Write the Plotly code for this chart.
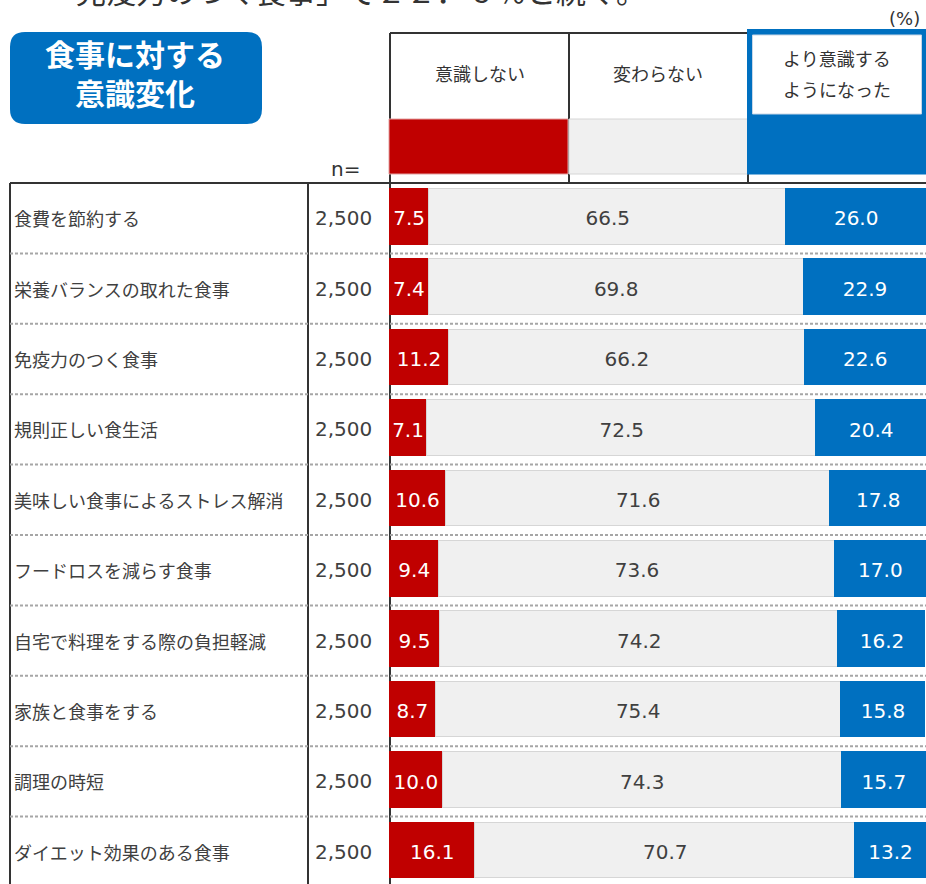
import plotly.graph_objects as go

# ---- data -------------------------------------------------------------
items = [
    "食費を節約する",
    "栄養バランスの取れた食事",
    "免疫力のつく食事",
    "規則正しい食生活",
    "美味しい食事によるストレス解消",
    "フードロスを減らす食事",
    "自宅で料理をする際の負担軽減",
    "家族と食事をする",
    "調理の時短",
    "ダイエット効果のある食事",
]
n_values = [2500, 2500, 2500, 2500, 2500, 2500, 2500, 2500, 2500, 2500]
not_conscious = [7.5, 7.4, 11.2, 7.1, 10.6, 9.4, 9.5, 8.7, 10.0, 16.1]
unchanged = [66.5, 69.8, 66.2, 72.5, 71.6, 73.6, 74.2, 75.4, 74.3, 70.7]
more_conscious = [26.0, 22.9, 22.6, 20.4, 17.8, 17.0, 16.2, 15.8, 15.7, 13.2]

series_names = ["意識しない", "変わらない", "より意識する<br>ようになった"]
headline = "「免疫力のつく食事」で２２．６％と続く。"
box_title = "食事に対する<br>意識変化"

# ---- styling ----------------------------------------------------------
W, H = 926, 884
RED, GRAY, BLUE = "#c00000", "#f0f0f0", "#0070c0"
DARK = "#333333"
JP = "Noto Sans CJK JP"
NUM = "DejaVu Sans"


def px(x):
    return x / W


def py(y):
    return 1 - y / H


rows = list(range(len(items)))

fig = go.Figure()
series = [
    (not_conscious, RED, "white", series_names[0], RED),
    (unchanged, GRAY, "#404040", series_names[1], "#d6d6d6"),
    (more_conscious, BLUE, "white", series_names[2], BLUE),
]
for vals, color, tcolor, name, edge in series:
    fig.add_trace(go.Bar(
        x=vals, y=rows, orientation="h", name=name,
        marker=dict(color=color, line=dict(color=edge, width=1.2)),
        width=0.79, showlegend=False, hoverinfo="skip",
    ))

# value labels centred in each segment
base = [0.0] * len(rows)
for vals, color, tcolor, name, edge in series:
    mids = [b + v / 2 for b, v in zip(base, vals)]
    fig.add_trace(go.Scatter(
        x=mids, y=[r + 0.05 for r in rows], mode="text",
        text=[f"{v:.1f}" for v in vals],
        textfont=dict(family=NUM, size=20, color=tcolor),
        showlegend=False, hoverinfo="skip", cliponaxis=False,
    ))
    base = [b + v for b, v in zip(base, vals)]

shapes = []
line_dark = dict(color=DARK, width=2)


def seg(x0, y0, x1, y1):
    shapes.append(dict(type="line", xref="paper", yref="paper",
                       x0=px(x0), y0=py(y0), x1=px(x1), y1=py(y1),
                       layer="below", line=line_dark))


def rect(x0, y0, x1, y1, fill, edge=None, ew=0):
    shapes.append(dict(type="rect", xref="paper", yref="paper",
                       x0=px(x0), y0=py(y0), x1=px(x1), y1=py(y1),
                       layer="below", fillcolor=fill,
                       line=dict(color=edge or fill, width=ew)))


# table frame
seg(390, 33, 748, 33)
seg(390, 33, 390, H)
seg(569, 33, 569, 183)
seg(748, 33, 748, 183)
seg(10, 183, W, 183)
seg(10, 183, 10, H)
seg(308, 183, 308, H)

# header colour keys
rect(389, 119, 568, 174, RED, "#e3a0a0", 1)
rect(569, 119, 747.5, 174, GRAY, "#d6d6d6", 1)
rect(747, 29, W, 174.5, BLUE)
rect(752.5, 35, 921.5, 114, "white", "#c8d6e6", 1)

# dotted separators between rows
for i in rows[:-1]:
    shapes.append(dict(type="line", xref="paper", yref="y",
                       x0=px(10), x1=1, y0=i + 0.52, y1=i + 0.52, layer="below",
                       line=dict(color="#a6a6a6", width=2, dash="3px,2px")))


# rounded title box
def rounded(x0, y0, x1, y1, r):
    def p(x, y):
        return f"{px(x):.5f},{py(y):.5f}"
    return (f"M{p(x0 + r, y0)} L{p(x1 - r, y0)} Q{p(x1, y0)} {p(x1, y0 + r)} "
            f"L{p(x1, y1 - r)} Q{p(x1, y1)} {p(x1 - r, y1)} L{p(x0 + r, y1)} "
            f"Q{p(x0, y1)} {p(x0, y1 - r)} L{p(x0, y0 + r)} Q{p(x0, y0)} {p(x0 + r, y0)} Z")


shapes.append(dict(type="path", xref="paper", yref="paper",
                   path=rounded(10, 32, 262, 124, 15), layer="below",
                   fillcolor=BLUE, line=dict(color=BLUE, width=0)))

annotations = []


def note(text, x, y, size, color=DARK, family=JP, xanchor="center",
         yanchor="middle", yref="paper"):
    annotations.append(dict(
        text=text, x=x, y=y, xref="paper", yref=yref,
        xanchor=xanchor, yanchor=yanchor, showarrow=False,
        font=dict(family=family, size=size, color=color)))


note(headline, px(44), py(14), 30, xanchor="left", yanchor="bottom")
note("(%)", px(922), py(18), 18, family=NUM, xanchor="right")
note(f"<b>{box_title}</b>", px(135), py(72), 30, color="white")
note(series_names[0], px(480), py(73), 18)
note(series_names[1], px(658), py(73), 18)
upper, lower = series_names[2].split("<br>")
note(upper, px(837), py(58), 18)
note(lower, px(837), py(89), 18)
note("n=", px(362), py(169), 20, family=NUM, xanchor="right")

for i, (lab, n) in enumerate(zip(items, n_values)):
    note(lab, px(12), i + 0.02, 18, color="#404040", xanchor="left", yref="y")
    note(f"{n:,}", px(343), i + 0.02, 20, color="#404040", family=NUM, yref="y")

fig.update_layout(
    width=W, height=H, barmode="stack", bargap=0,
    margin=dict(l=0, r=0, t=0, b=0),
    paper_bgcolor="white", plot_bgcolor="rgba(0,0,0,0)",
    xaxis=dict(domain=[389 / W, 1], range=[0, 100], visible=False, fixedrange=True),
    yaxis=dict(domain=[0, (H - 183) / H], range=[9.477, -0.480], visible=False,
               fixedrange=True),
    shapes=shapes, annotations=annotations,
)

fig.write_html("out.html", config={"displayModeBar": False})
